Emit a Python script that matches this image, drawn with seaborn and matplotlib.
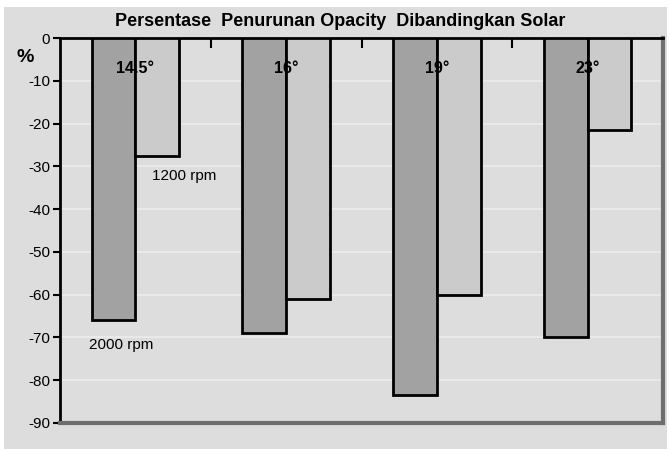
import matplotlib
matplotlib.use("Agg")
import matplotlib.pyplot as plt
import seaborn as sns
import pandas as pd
from matplotlib.patches import Rectangle

# Injection timing groups and opacity reduction relative to diesel (Solar)
timings = ["14.5°", "16°", "19°", "23°"]
rpm_2000 = [-66, -69, -83.5, -70]
rpm_1200 = [-27.5, -61, -60, -21.5]
series_names = ["2000 rpm", "1200 rpm"]
y_ticks = [0, -10, -20, -30, -40, -50, -60, -70, -80, -90]

df = pd.DataFrame({
    "timing": timings * 2,
    "value": rpm_2000 + rpm_1200,
    "speed": [series_names[0]] * len(timings) + [series_names[1]] * len(timings),
})

sns.set_theme(style="white")
plt.rcParams["font.family"] = ["Liberation Sans", "DejaVu Sans"]
plt.rcParams["text.color"] = "black"
plt.rcParams["ytick.color"] = "black"

W, H = 670, 449
fig = plt.figure(figsize=(W / 100, H / 100), dpi=100, facecolor="white")

# grey panel behind the chart
fig.patches.append(Rectangle((4 / W, 0), 663 / W, 442 / H, transform=fig.transFigure,
                             facecolor="#dddddd", edgecolor="none", zorder=-5))

ax = fig.add_axes([60 / W, (H - 423) / H, 603 / W, 385 / H])
ax.set_zorder(2)
ax.set_facecolor("#dddddd")

sns.barplot(data=df, x="timing", y="value", hue="speed", order=timings,
            hue_order=series_names, palette=["#a2a2a2", "#cbcbcb"],
            width=0.58, edgecolor="black", linewidth=2, legend=False, ax=ax,
            zorder=3)

ax.set_ylim(-90, 0)
ax.set_xlim(-0.5, len(timings) - 0.5)
ax.set_yticks(y_ticks)
ax.set_yticklabels([str(t) for t in y_ticks], fontsize=11)
ax.yaxis.grid(True, color="#ececec", linewidth=1.2, zorder=0)
ax.set_axisbelow(True)

# category separators along the zero line
ax.xaxis.tick_top()
ax.set_xticks([i + 0.5 for i in range(len(timings) - 1)])
ax.set_xticklabels([])
ax.tick_params(axis="x", direction="in", length=7, width=1.5, color="black", top=True, bottom=False)
ax.tick_params(axis="y", direction="out", length=5, width=1.5, color="black", left=True, pad=2)
ax.set_xlabel("")
ax.set_ylabel("")

for side in ["left", "top"]:
    ax.spines[side].set_color("black")
    ax.spines[side].set_linewidth(2)
for side in ["right", "bottom"]:
    ax.spines[side].set_color("#6e6e6e")
    ax.spines[side].set_linewidth(3)

# timing labels inside the bars
for i, t in enumerate(timings):
    ax.text(i, -7.2, t, ha="center", va="center", fontsize=11.5, fontweight="bold", zorder=5)

ax.text(0.11, -32.3, series_names[1], ha="left", va="center", fontsize=11, zorder=5)
ax.text(-0.31, -71.8, series_names[0], ha="left", va="center", fontsize=11, zorder=5)

fig.text(340 / W, 1 - 22 / H, "Persentase  Penurunan Opacity  Dibandingkan Solar",
         ha="center", va="center", fontsize=13, fontweight="bold")
fig.text(25 / W, 1 - 58 / H, "%", ha="center", va="center", fontsize=14, fontweight="bold")

fig.savefig("out.png", dpi=100, facecolor="white")
